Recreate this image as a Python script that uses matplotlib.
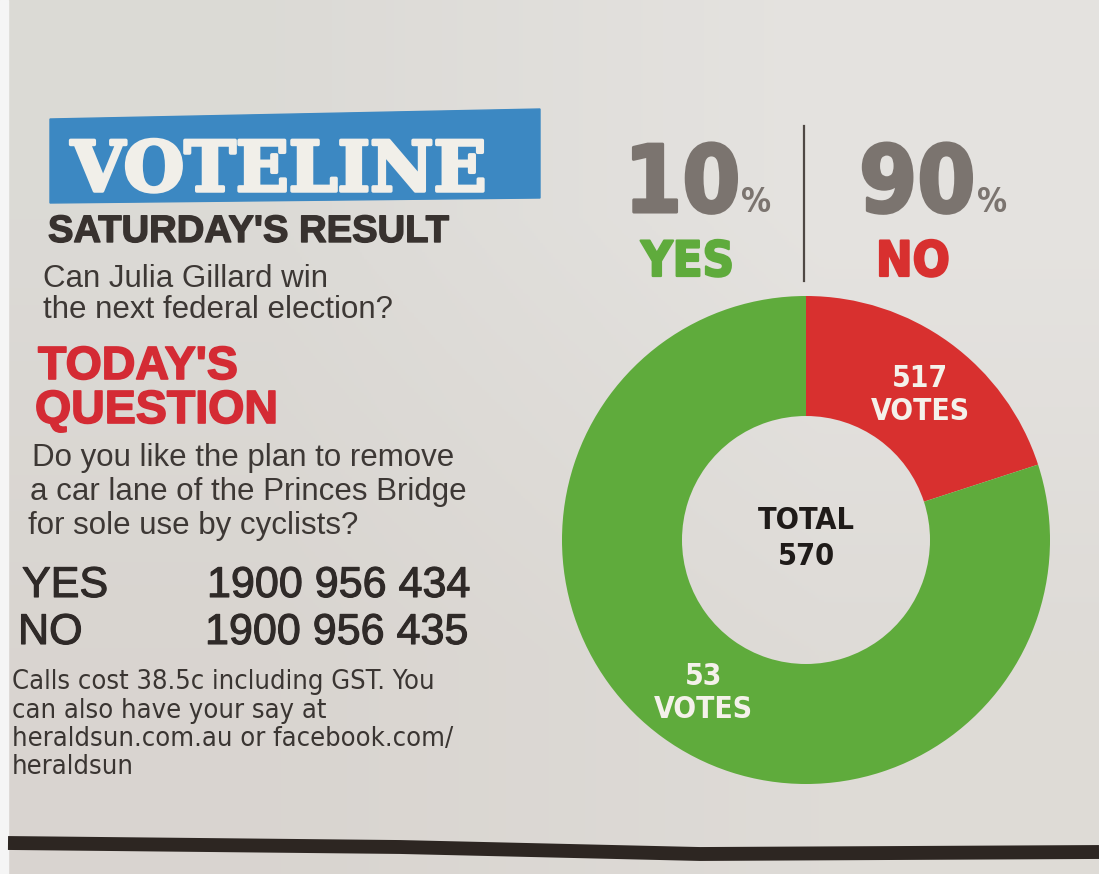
import numpy as np
import matplotlib.pyplot as plt
import matplotlib.patheffects as pe
from matplotlib.patches import Polygon, Rectangle

W, H = 1099, 874

answers = ['YES', 'NO']
percents = [10, 90]
votes = [53, 517]
total_votes = 570
# share of the ring each colour takes, as it was printed (yes / no)
ring_share = [80, 20]

question_old = ['Can Julia Gillard win', 'the next federal election?']
question_new = ['Do you like the plan to remove',
                'a car lane of the Princes Bridge',
                'for sole use by cyclists?']
phone_numbers = ['1900 956 434', '1900 956 435']
footnote = ['Calls cost 38.5c including GST. You',
            'can also have your say at',
            'heraldsun.com.au or facebook.com/',
            'heraldsun']

green = '#5fab3c'
red = '#d8302f'
grey = '#7b746f'
ink = '#38322f'

NARROW = ['Liberation Sans Narrow', 'DejaVu Sans']


def Y(py):
    # picture rows run downwards
    return H - py


def fat(col, lw):
    return [pe.withStroke(linewidth=lw, foreground=col)]


fig = plt.figure(figsize=(W / 100, H / 100), dpi=100)
ax = fig.add_axes([0, 0, 1, 1])

# newsprint
paper = np.array([[[0.862, 0.855, 0.839], [0.898, 0.890, 0.878]],
                  [[0.851, 0.835, 0.816], [0.871, 0.859, 0.843]]])
ax.imshow(paper, extent=[0, W, 0, H], aspect='auto', interpolation='bilinear', zorder=0)
ax.add_patch(Rectangle((0, 0), 8, H, color='#f5f5f5', zorder=1))

# ring
cx, cy, r_out, ring_w = 806, Y(540), 244, 120
wedges, _ = ax.pie([ring_share[1], ring_share[0]], colors=[red, green],
                   startangle=90, counterclock=False, center=(cx, cy), radius=r_out,
                   wedgeprops=dict(width=ring_w, edgecolor='none'), frame=True)
cond_bold = dict(family=NARROW, fontstretch='condensed', fontweight='bold')
for w, v in zip(wedges, [votes[1], votes[0]]):
    mid = np.deg2rad((w.theta1 + w.theta2) / 2)
    rr = r_out - ring_w / 2
    lx, ly = cx + rr * np.cos(mid) + 6, cy + rr * np.sin(mid)
    ax.text(lx, ly + 4, str(v), color='#f4f1ea', fontsize=21.5, ha='center', va='baseline', **cond_bold)
    ax.text(lx, ly - 29, 'VOTES', color='#f4f1ea', fontsize=21.5, ha='center', va='baseline', **cond_bold)
ax.text(cx, Y(529), 'TOTAL', color='#1f1b19', fontsize=22, ha='center', va='baseline', **cond_bold)
ax.text(cx, Y(565), str(total_votes), color='#1f1b19', fontsize=22, ha='center', va='baseline', **cond_bold)

# percentages
renderer = fig.canvas.get_renderer()
for x0, ans, pct, col in zip([627, 862], answers, percents, [green, red]):
    t = ax.text(x0 - 3, Y(212), str(pct), color=grey, fontsize=67, ha='left', va='baseline',
                path_effects=fat(grey, 2.2), **cond_bold)
    bb = t.get_window_extent(renderer)
    ax.text(bb.x1 + 1, Y(212), '%', color=grey, fontsize=24, ha='left', va='baseline', **cond_bold)
    ax.text(x0 + 14, Y(276), ans, color=col, fontsize=35, ha='left', va='baseline',
            path_effects=fat(col, 1.6), **cond_bold)
ax.plot([804, 804], [Y(126), Y(281)], color='#4f4844', lw=1.6)

# masthead
ax.add_patch(Polygon([(50, Y(119)), (540, Y(109)), (540, Y(198)), (50, Y(203))],
                     closed=True, color='#3c88c2', zorder=2))
ax.text(279, Y(191), 'VOTELINE', color='#f1efe9', fontsize=50, ha='center', va='baseline',
        family='DejaVu Serif', fontweight='bold', zorder=3, path_effects=fat('#f1efe9', 2.5))

ax.text(48, Y(242), "SATURDAY'S RESULT", color=ink, fontsize=27.5, ha='left', va='baseline',
        family='Liberation Sans', fontweight='bold', path_effects=fat(ink, 1.0))
for i, line in enumerate(question_old):
    ax.text(43, Y(287 + 31 * i), line, color='#3d3835', fontsize=22.5, ha='left', va='baseline',
            family='Liberation Sans')

ax.text(38, Y(379), "TODAY'S", color='#d42b34', fontsize=33.5, ha='left', va='baseline',
        family='Liberation Sans', fontweight='bold', path_effects=fat('#d42b34', 1.2))
ax.text(35, Y(423), 'QUESTION', color='#d42b34', fontsize=33.5, ha='left', va='baseline',
        family='Liberation Sans', fontweight='bold', path_effects=fat('#d42b34', 1.2))
for i, line in enumerate(question_new):
    ax.text(32 - 2 * i, Y(466 + 34 * i), line, color='#3d3835', fontsize=22.5, ha='left',
            va='baseline', family='Liberation Sans')

for i, (ans, num) in enumerate(zip(answers, phone_numbers)):
    yb = Y(597 + 47 * i)
    ax.text(22 - 4 * i, yb, ans, color='#2f2a28', fontsize=31, ha='left', va='baseline',
            family='Liberation Sans', path_effects=fat('#2f2a28', 0.8))
    ax.text(207 - 2 * i, yb, num, color='#2f2a28', fontsize=31, ha='left', va='baseline',
            family='Liberation Sans', path_effects=fat('#2f2a28', 0.8))

for i, line in enumerate(footnote):
    ax.text(12, Y(689 + 28.5 * i), line, color='#3a3532', fontsize=19.5, ha='left', va='baseline',
            family=NARROW, fontstretch='condensed')

# rule at the foot of the panel
ax.plot([8, 400, 700, 1099], [Y(843), Y(847), Y(854), Y(852)], color='#2d2622', lw=10,
        solid_capstyle='butt', solid_joinstyle='round')

ax.set_xlim(0, W)
ax.set_ylim(0, H)
ax.axis('off')
fig.savefig('out.png', dpi=100)
